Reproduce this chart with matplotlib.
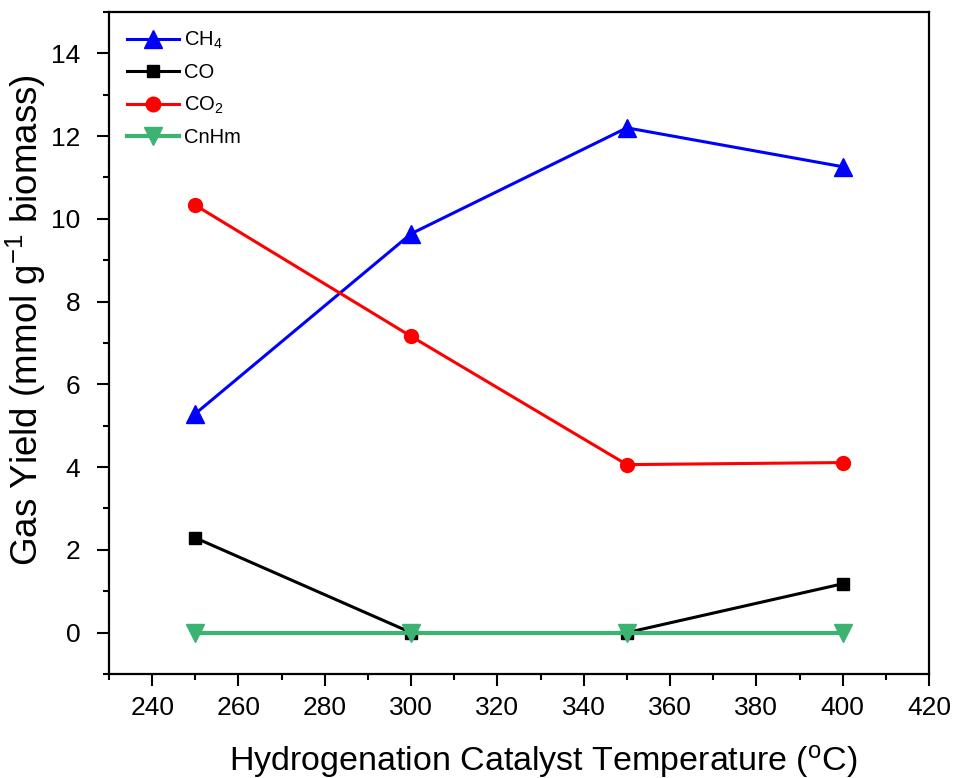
import matplotlib
matplotlib.use('Agg')
import matplotlib.pyplot as plt
from matplotlib.ticker import MultipleLocator

plt.rcParams['font.family'] = ['Liberation Sans', 'DejaVu Sans']
plt.rcParams['mathtext.fontset'] = 'custom'
plt.rcParams['mathtext.rm'] = 'Liberation Sans'
plt.rcParams['mathtext.it'] = 'Liberation Sans'

# gas yields vs catalyst temperature
temperature = [250, 300, 350, 400]
ch4 = [5.29, 9.64, 12.2, 11.26]
co = [2.29, 0.0, 0.0, 1.18]
co2 = [10.33, 7.16, 4.06, 4.11]
cnhm = [0.0, 0.0, 0.0, 0.0]

fig = plt.figure(figsize=(9.55, 7.78), dpi=100)
ax = fig.add_axes([0.1141, 0.1337, 0.8587, 0.8509])

ax.plot(temperature, ch4, color='#0000ff', marker='^', ms=13, lw=2.2, label='CH$_4$')
ax.plot(temperature, co, color='black', marker='s', ms=8.5, lw=2.2, label='CO')
ax.plot(temperature, co2, color='#ff0000', marker='o', ms=10, lw=2.2, label='CO$_2$')
ax.plot(temperature, cnhm, color='#3cb371', marker='v', ms=13, lw=3, label='CnHm')

ax.set_xlim(230, 420)
ax.set_ylim(-1, 15)
ax.xaxis.set_major_locator(MultipleLocator(20))
ax.xaxis.set_minor_locator(MultipleLocator(10))
ax.yaxis.set_major_locator(MultipleLocator(2))
ax.yaxis.set_minor_locator(MultipleLocator(1))
ax.tick_params(which='major', direction='out', length=8.5, width=1.5, labelsize=19)
ax.tick_params(which='minor', direction='out', length=4.5, width=1.5)
ax.tick_params(axis='x', which='major', pad=7)
ax.tick_params(axis='y', which='major', pad=12)
ax.tick_params(top=False, right=False)
for s in ax.spines.values():
    s.set_linewidth(1.6)

ax.set_xlabel('Hydrogenation Catalyst Temperature ($^{\\mathregular{o}}$C)', fontsize=24.5)
ax.xaxis.set_label_coords(0.529, -0.104)
ax.set_ylabel('Gas Yield (mmol g$^{\\mathregular{-1}}$ biomass)', fontsize=26.5)
ax.yaxis.set_label_coords(-0.074, 0.535)

ax.legend(loc='upper left', frameon=False, fontsize=14.5, handlelength=2.6,
          handletextpad=0.25, labelspacing=0.6, borderaxespad=0.5, markerscale=1.05)

plt.savefig('out.png', dpi=100)
